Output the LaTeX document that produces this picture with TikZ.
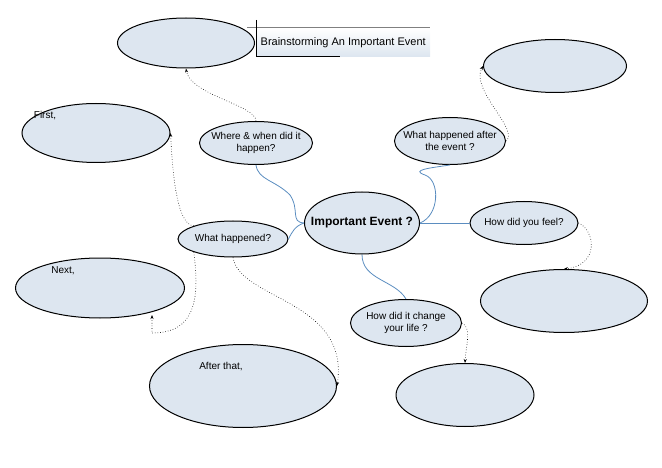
\documentclass[tikz,border=0pt]{standalone}
\usepackage{fontspec}
\setmainfont{Liberation Sans}
\usetikzlibrary{shapes.geometric, arrows.meta}
\definecolor{bubbleFill}{HTML}{DDE6F0}
\definecolor{linkBlue}{HTML}{5B8DC0}
\tikzset{bubble/.style={ellipse, draw, line width=1pt, fill=bubbleFill, inner xsep=-13pt, inner ysep=-4pt, font=\fontsize{10}{11.5}\selectfont, align=center},
	hint/.style={dotted, line width=0.6pt, -{Stealth[length=4pt]}},
	link/.style={draw=linkBlue, line width=0.8pt}}

\begin{document}
\begin{tikzpicture}[x=1pt, y=-1pt]
\useasboundingbox (0,0) rectangle (662,468);

% title
\node (title) [anchor=north west, minimum width=174pt, minimum height=28pt, inner xsep=2pt, top color=white, bottom color=bubbleFill, font=\fontsize{11}{13}\selectfont] at (256,28) {Brainstorming An Important Event};
\draw[line width=1pt, gray] (247,28) -- (430,28);
\draw[line width=0.8pt] (256,20) -- (256,56) -- (340,56);

% centre and questions
\node (event) [bubble, inner xsep=-22pt, minimum width=115pt, minimum height=62pt, font=\fontsize{12}{14}\selectfont\bfseries] at (362,223) {Important Event ?};
\node (where) [bubble, minimum width=113pt, minimum height=43pt] at (256,143) {Where \& when did it\\happen?};
\node (what) [bubble, minimum width=110pt, minimum height=36pt] at (233,239) {What happened?};
\node (after) [bubble, minimum width=111pt, minimum height=47pt] at (450,141) {What happened after\\the event ?};
\node (feel) [bubble, minimum width=108pt, minimum height=43pt] at (524,223) {How did you feel?};
\node (change) [bubble, minimum width=111pt, minimum height=47pt] at (406,323) {How did it change\\your life ?};

% answers
\node (whereAns) [bubble, minimum width=137pt, minimum height=50pt] at (186,43) {};
\node (first) [bubble, minimum width=148pt, minimum height=59pt] at (96,133) {};
\node [font=\fontsize{10}{12}\selectfont] at (45,116) {First,};
\node (next) [bubble, minimum width=169pt, minimum height=60pt] at (100,288) {};
\node [font=\fontsize{10}{12}\selectfont] at (63,271) {Next,};
\node (then) [bubble, minimum width=187pt, minimum height=83pt] at (243,386) {};
\node [font=\fontsize{10}{12}\selectfont] at (221,367) {After that,};
\node (afterAns) [bubble, minimum width=143pt, minimum height=53pt] at (555,66) {};
\node (feelAns) [bubble, minimum width=167pt, minimum height=63pt] at (564,301) {};
\node (changeAns) [bubble, minimum width=138pt, minimum height=63pt] at (465,395) {};

% blue links
\draw[link] (event.west) .. controls (290,222) and (300,210) .. (290,195) .. controls (275,180) and (258,180) .. (where.south);
\draw[link] (event.west) .. controls (295,226) and (292,232) .. (what.east);
\draw[link] (event.east) .. controls (440,215) and (440,180) .. (425,175) .. controls (410,170) and (430,168) .. (after.south);
\draw[link] (event.east) -- (feel.west);
\draw[link] (event.south) .. controls (362,280) and (395,280) .. (change.north);

% dotted hints
\draw[hint] (where.north) .. controls (256,105) and (190,95) .. (whereAns.south);
\draw[hint] (what.north west) .. controls (175,225) and (172,160) .. (first.east);
\draw[hint] (what.south west) .. controls (200,300) and (195,333) .. (152,333) -- (152,315);
\draw[hint] (what.south) .. controls (240,300) and (350,300) .. (then.east);
\draw[hint] (after.east) .. controls (520,130) and (470,90) .. (afterAns.west);
\draw[hint] (feel.east) .. controls (595,230) and (600,265) .. (feelAns.north);
\draw[hint] (change.east) .. controls (472,328) and (466,345) .. (changeAns.north);
\end{tikzpicture}
\end{document}
